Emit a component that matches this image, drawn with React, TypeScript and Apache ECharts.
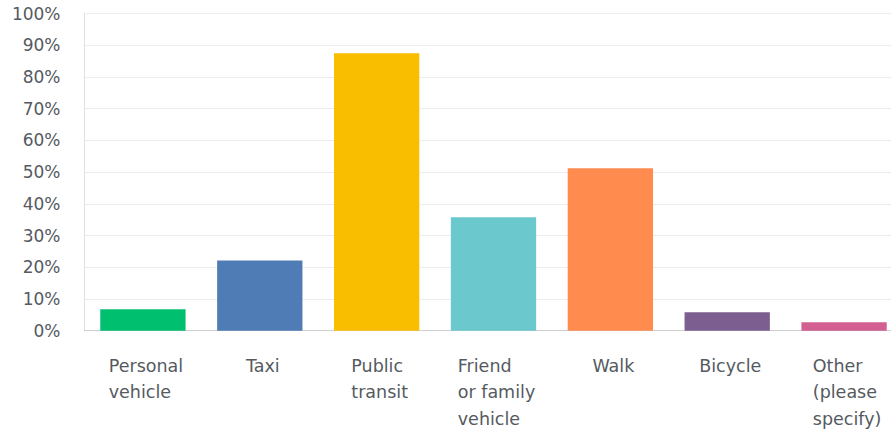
import React, { useEffect, useRef } from "react";
import * as echarts from "echarts";

const categories = [
  "Personal\nvehicle",
  "Taxi",
  "Public\ntransit",
  "Friend\nor family\nvehicle",
  "Walk",
  "Bicycle",
  "Other\n(please\nspecify)",
];
const values = [6.8, 22.1, 87.5, 35.8, 51.2, 5.8, 2.7];
const colors = ["#00BF6F", "#507CB6", "#F9BE00", "#6BC8CD", "#FF8B4F", "#7D5E90", "#D25F90"];
const yTicks = [0, 10, 20, 30, 40, 50, 60, 70, 80, 90, 100];

const FONT = "DejaVu Sans";

export default function App() {
  const ref = useRef<HTMLDivElement>(null);
  useEffect(() => {
    if (!ref.current) return;
    const chart = echarts.init(ref.current, undefined, { renderer: "svg" });
    chart.setOption({
      animation: false,
      grid: {
        left: 84.5,
        width: 818,
        top: 13.5,
        height: 317.2,
        containLabel: false,
        outerBoundsMode: "none",
      },
      xAxis: {
        type: "category",
        data: categories,
        axisLine: { show: true, lineStyle: { color: "#d0d0d0", width: 1 } },
        axisTick: { show: false },
        axisLabel: {
          interval: 0,
          margin: 22,
          color: "#555a5f",
          fontFamily: FONT,
          fontSize: 17.5,
          lineHeight: 26.5,
          align: "center",
          verticalAlign: "top",
          hideOverlap: false,
          formatter: (v: string) =>
            v.split("\n").map((l) => `{a|${l}}`).join("\n"),
          rich: {
            a: {
              align: "left",
              fontFamily: FONT,
              fontSize: 17.5,
              lineHeight: 26.5,
              color: "#555a5f",
              padding: [0, 0, 0, 6],
            },
          },
        },
      },
      yAxis: {
        type: "value",
        min: 0,
        max: 100,
        interval: 10,
        axisLine: { show: true, lineStyle: { color: "#e0e0e0", width: 1 } },
        axisTick: { show: false },
        splitLine: { lineStyle: { color: "#ececec", width: 1 } },
        axisLabel: {
          margin: 24,
          color: "#555a5f",
          fontFamily: FONT,
          fontSize: 17,
          padding: [5, 0, 0, 0],
          formatter: (v: number) => (yTicks.includes(v) ? `${v}%` : ""),
        },
      },
      series: [
        {
          type: "bar",
          data: values.map((v, i) => ({ value: v, itemStyle: { color: colors[i] } })),
          barCategoryGap: "27%",
        },
      ],
    });
    return () => chart.dispose();
  }, []);
  return <div ref={ref} style={{ width: 891, height: 434, position: "absolute", left: 0, top: 0 }} />;
}
